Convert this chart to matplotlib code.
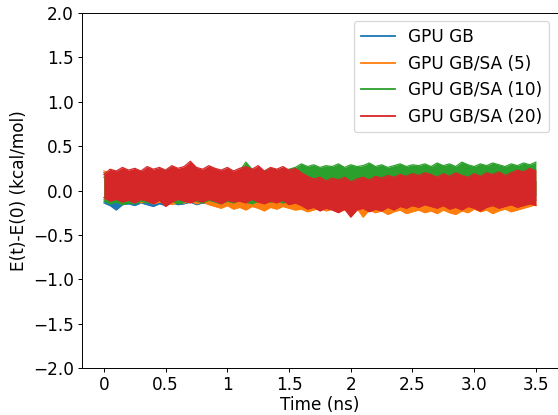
import numpy as np
import matplotlib
matplotlib.use('Agg')
import matplotlib.pyplot as plt

# Time axis, 0 to 3.5 ns in steps of 0.05 ns
time_ns = np.linspace(0, 3.5, 71)

# Upper / lower envelope of each energy-drift trace (kcal/mol)
gb_hi = [0.2, 0.19, 0.21, 0.18, 0.2, 0.19, 0.21, 0.2, 0.18, 0.2, 0.19, 0.21, 0.18, 0.2, 0.19, 0.2,
         0.18, 0.21, 0.19, 0.22, 0.2, 0.19, 0.21, 0.2, 0.18, 0.2, 0.19, 0.21, 0.2, 0.22, 0.19, 0.2,
         0.12, 0.1, 0.11, 0.09, 0.12, 0.1, 0.11, 0.09, 0.1, 0.12, 0.1, 0.11, 0.09, 0.1, 0.12, 0.1,
         0.11, 0.09, 0.1, 0.11, 0.1,
         0.1, 0.11, 0.09, 0.1, 0.12, 0.1, 0.11, 0.09, 0.1, 0.11, 0.1, 0.12, 0.1, 0.11, 0.09, 0.1, 0.11, 0.1]
gb_lo = [-0.14, -0.17, -0.22, -0.16, -0.15, -0.17, -0.14, -0.16, -0.18, -0.15, -0.17, -0.14, -0.16,
         -0.15, -0.13, -0.16, -0.14, -0.15, -0.13, -0.16, -0.14, -0.15, -0.17, -0.14, -0.16, -0.13,
         -0.15, -0.17, -0.14, -0.16, -0.19, -0.15,
         -0.12, -0.1, -0.13, -0.11, -0.12, -0.1, -0.13, -0.11, -0.12, -0.14, -0.11, -0.12, -0.1, -0.13,
         -0.11, -0.12, -0.1, -0.13, -0.11, -0.12, -0.1,
         -0.11, -0.13, -0.1, -0.12, -0.11, -0.13, -0.1, -0.12, -0.11, -0.13, -0.12, -0.1, -0.12, -0.11,
         -0.13, -0.1, -0.12, -0.11]

sa5_hi = [0.22, 0.2, 0.18, 0.21, 0.19, 0.2, 0.17, 0.19, 0.21, 0.18, 0.2, 0.19, 0.17, 0.2, 0.18, 0.19,
          0.21, 0.18, 0.17, 0.19, 0.18, 0.16, 0.18, 0.17, 0.15, 0.17, 0.16, 0.14, 0.16, 0.13, 0.15, 0.12,
          0.1, 0.08, 0.1, 0.07, 0.09, 0.06, 0.08, 0.05, 0.07, 0.06, 0.08, 0.05, 0.07, 0.04, 0.06, 0.05,
          0.07, 0.04, 0.06, 0.05, 0.07,
          0.05, 0.07, 0.04, 0.06, 0.05, 0.07, 0.04, 0.06, 0.05, 0.08, 0.06, 0.07, 0.05, 0.08, 0.06, 0.09,
          0.07, 0.1]
sa5_lo = [-0.1, -0.12, -0.11, -0.13, -0.12, -0.11, -0.14, -0.12, -0.15, -0.13, -0.12, -0.16, -0.13,
          -0.14, -0.12, -0.15, -0.13, -0.16, -0.18, -0.2, -0.17, -0.21, -0.19, -0.22, -0.18, -0.2,
          -0.23, -0.19, -0.21, -0.18, -0.2, -0.22,
          -0.21, -0.24, -0.22, -0.2, -0.23, -0.21, -0.24, -0.22, -0.25, -0.2, -0.3, -0.22, -0.25, -0.23,
          -0.27, -0.24, -0.22, -0.26, -0.24, -0.22, -0.25,
          -0.23, -0.26, -0.22, -0.25, -0.27, -0.23, -0.25, -0.21, -0.24, -0.22, -0.26, -0.23, -0.21,
          -0.24, -0.22, -0.2, -0.18, -0.16]

sa10_hi = [0.15, 0.2, 0.18, 0.21, 0.19, 0.22, 0.2, 0.23, 0.21, 0.2, 0.22, 0.26, 0.21, 0.23, 0.25, 0.22,
           0.2, 0.24, 0.22, 0.21, 0.23, 0.2, 0.22, 0.32, 0.24, 0.22, 0.21, 0.25, 0.23, 0.22, 0.24, 0.26,
           0.3, 0.27, 0.29, 0.26, 0.28, 0.27, 0.3, 0.26, 0.29, 0.27, 0.28, 0.31, 0.27, 0.29, 0.26, 0.28,
           0.3, 0.27, 0.29, 0.28, 0.3,
           0.27, 0.31, 0.28, 0.3, 0.27, 0.32, 0.29, 0.27, 0.3, 0.28, 0.31, 0.29, 0.27, 0.3, 0.28, 0.31,
           0.29, 0.32]
sa10_lo = [-0.12, -0.15, -0.13, -0.16, -0.14, -0.15, -0.12, -0.14, -0.13, -0.11, -0.14, -0.12, -0.15,
           -0.13, -0.1, -0.12, -0.14, -0.11, -0.13, -0.15, -0.12, -0.14, -0.11, -0.13, -0.15, -0.12,
           -0.1, -0.13, -0.11, -0.14, -0.12, -0.1,
           -0.05, -0.08, -0.04, -0.07, -0.05, -0.09, -0.06, -0.04, -0.08, -0.05, -0.07, -0.03, -0.06,
           -0.08, -0.05, -0.07, -0.04, -0.06, -0.08, -0.05, -0.07,
           -0.04, -0.06, -0.08, -0.05, -0.07, -0.04, -0.06, -0.08, -0.05, -0.07, -0.04, -0.06, -0.05,
           -0.08, -0.06, -0.04, -0.07, -0.05]

sa20_hi = [0.18, 0.24, 0.22, 0.26, 0.23, 0.25, 0.22, 0.27, 0.24, 0.26, 0.23, 0.28, 0.25, 0.27, 0.33, 0.26,
           0.24, 0.28, 0.25, 0.23, 0.26, 0.22, 0.25, 0.27, 0.24, 0.28, 0.22, 0.26, 0.24, 0.27, 0.23, 0.25,
           0.2, 0.16, 0.13, 0.15, 0.11, 0.14, 0.12, 0.15, 0.1, 0.13, 0.15, 0.12, 0.16, 0.14, 0.17, 0.15,
           0.18, 0.16, 0.19, 0.17, 0.2,
           0.18, 0.15, 0.19, 0.16, 0.2, 0.17, 0.15, 0.19, 0.16, 0.2, 0.18, 0.21, 0.17, 0.2, 0.23, 0.21,
           0.25, 0.22]
sa20_lo = [-0.08, -0.12, -0.1, -0.13, -0.11, -0.14, -0.1, -0.12, -0.15, -0.11, -0.18, -0.13, -0.1,
           -0.12, -0.14, -0.11, -0.13, -0.1, -0.12, -0.15, -0.11, -0.13, -0.12, -0.14, -0.1, -0.13,
           -0.15, -0.12, -0.14, -0.11, -0.16, -0.14,
           -0.17, -0.21, -0.19, -0.23, -0.2, -0.22, -0.25, -0.21, -0.3, -0.22, -0.2, -0.24, -0.21, -0.23,
           -0.19, -0.22, -0.18, -0.2, -0.17, -0.19, -0.16,
           -0.18, -0.2, -0.17, -0.21, -0.19, -0.22, -0.18, -0.2, -0.23, -0.19, -0.17, -0.2, -0.18, -0.16,
           -0.19, -0.17, -0.15, -0.17]

labels = ['GPU GB', 'GPU GB/SA (5)', 'GPU GB/SA (10)', 'GPU GB/SA (20)']
colors = ['#1f77b4', '#ff7f0e', '#2ca02c', '#d62728']
x_ticks = [0, 0.5, 1, 1.5, 2, 2.5, 3.0, 3.5]
x_tick_labels = ['0', '0.5', '1', '1.5', '2', '2.5', '3.0', '3.5']

plt.rcParams['font.size'] = 14

dpi = 87
fig = plt.figure(figsize=(558 / dpi, 415 / dpi), dpi=dpi)
ax = fig.add_axes([82.3 / 558, 47 / 415, 475.2 / 558, 355 / 415])

series = [(gb_lo, gb_hi), (sa5_lo, sa5_hi), (sa10_lo, sa10_hi), (sa20_lo, sa20_hi)]
for k, ((lo, hi), lab, col) in enumerate(zip(series, labels, colors)):
    z = 2 + k
    ax.fill_between(time_ns, lo, hi, color=col, linewidth=0, zorder=z)
    ax.plot(time_ns, hi, color=col, lw=1.0, label=lab, zorder=z)
    ax.plot(time_ns, lo, color=col, lw=1.0, zorder=z)

ax.set_ylim(-2.0, 2.0)
ax.set_yticks(np.arange(-2.0, 2.01, 0.5))
ax.set_xticks(x_ticks)
ax.set_xticklabels(x_tick_labels)
ax.tick_params(axis='x', pad=3)
ax.set_xlabel('Time (ns)', labelpad=2)
ax.set_ylabel('E(t)-E(0) (kcal/mol)')

leg = ax.legend(loc='upper right')
leg.set_zorder(10)
for line in leg.get_lines():
    line.set_linewidth(1.5)

fig.savefig('out.png', dpi=dpi)
